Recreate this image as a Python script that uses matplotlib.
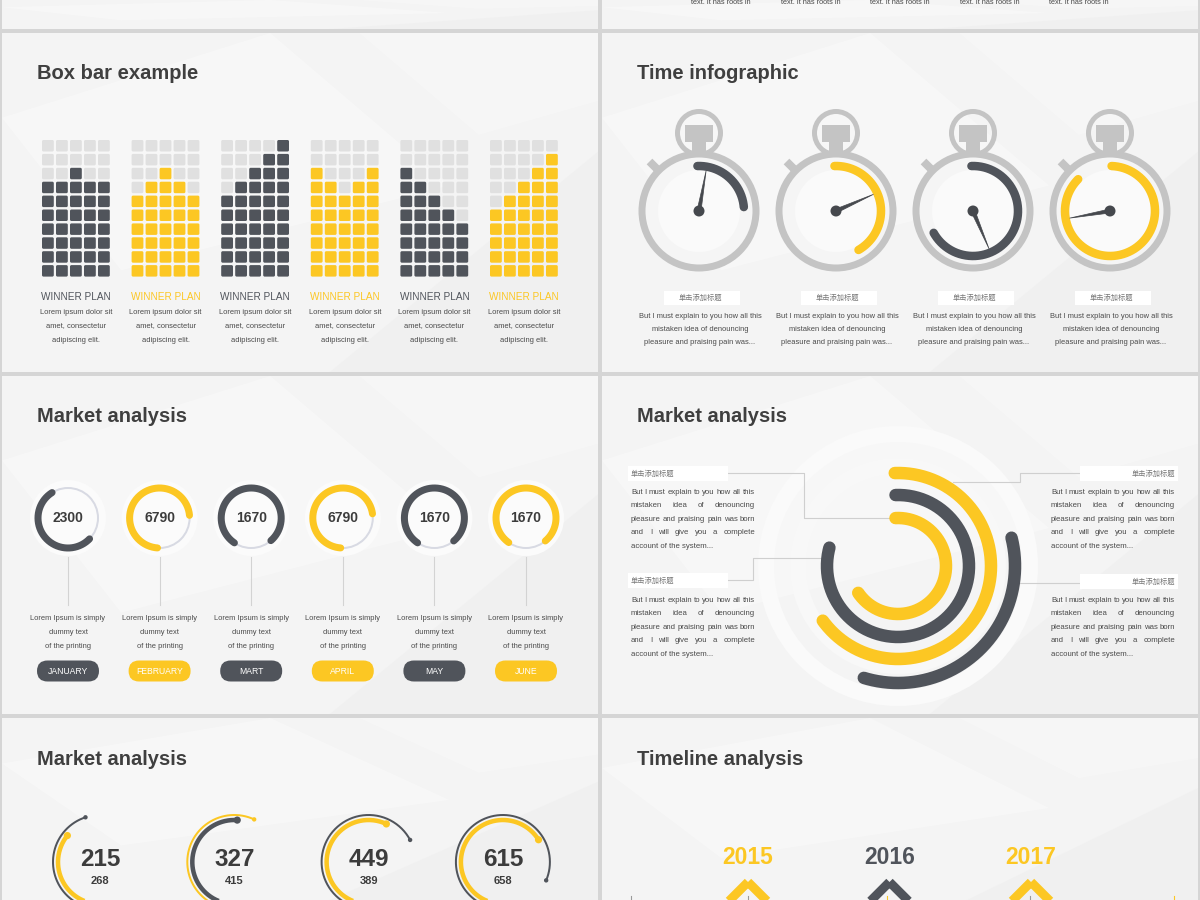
import numpy as np
import matplotlib
matplotlib.use("Agg")
import matplotlib.pyplot as plt
from matplotlib.patches import Rectangle, Circle, FancyBboxPatch, Polygon

plt.rcParams['font.family'] = ['Liberation Sans', 'Noto Sans CJK SC', 'DejaVu Sans']

DARK = "#50545b"
YEL = "#fcc723"
LGREY = "#e0e0e0"
TITLE = "#3f3f3f"
BODY = "#4a4a4a"
WGREY = "#c4c4c4"

# ---------------- data ----------------
top_snippets = ["text. It has roots in"] * 5

box_heights = [[7, 7, 8, 7, 7], [6, 7, 8, 7, 6], [6, 7, 8, 9, 10],
               [8, 7, 6, 7, 8], [8, 7, 6, 5, 4], [5, 6, 7, 8, 9]]
box_colors = [DARK, YEL, DARK, YEL, DARK, YEL]
box_label = "WINNER PLAN"
box_body = ["Lorem ipsum dolor sit", "amet, consectetur", "adipiscing elit."]

watch_start = [92, 92, 92, 88]        # degrees, arc start (top)
watch_sweep = [87, 152, 243, 313]     # degrees swept clockwise
watch_hand = [80, 24, -67, 190]       # hand direction, degrees
watch_colors = [DARK, YEL, DARK, YEL]
cn_title = "单击添加标题"
watch_body = ["But I must explain to you how all this",
              "mistaken idea of denouncing",
              "pleasure and praising pain was..."]

months = ["JANUARY", "FEBRUARY", "MART", "APRIL", "MAY", "JUNE"]
month_values = ["2300", "6790", "1670", "6790", "1670", "1670"]
month_arcs = [(122, 316), (5, 266), (-49, 236), (8, 266), (-50, 236), (-50, 235)]
month_colors = [DARK, YEL, DARK, YEL, DARK, YEL]
month_body = ["Lorem Ipsum is simply", "dummy text", "of the printing"]

ring_radii = [48, 71, 93, 117]
ring_start = [93, 92, 92, 14]
ring_sweep = [239, 287, 236, 121]
ring_colors = [YEL, DARK, YEL, DARK]
ring_body = ["But I must explain to you how all this",
             "mistaken idea of denouncing",
             "pleasure and praising pain was born",
             "and I will give you a complete",
             "account of the system..."]

gauge_values = ["215", "327", "449", "615"]
gauge_subs = ["268", "415", "389", "658"]
gauge_thin_end = [108, 65, 28, -23]
gauge_thick_end = [141, 86, 65, 32]
gauge_thin_colors = [DARK, YEL, DARK, DARK]
gauge_thick_colors = [YEL, DARK, YEL, YEL]

years = ["2015", "2016", "2017"]
year_colors = [YEL, DARK, YEL]

# ---------------- figure ----------------
fig = plt.figure(figsize=(12, 9), dpi=100)
fig.patch.set_facecolor("#d5d5d5")
ax = fig.add_axes([0, 0, 1, 1])
ax.set_xlim(0, 1200)
ax.set_ylim(900, 0)
ax.axis("off")
R = fig.canvas.get_renderer()


def px(v):
    return v * 0.72


def arc(cx, cy, r, a1, a2, color, lw, z=4, cap="round", alpha=1.0):
    t = np.radians(np.linspace(a1, a2, 240))
    ax.plot(cx + r * np.cos(t), cy - r * np.sin(t), color=color, lw=px(lw),
            solid_capstyle=cap, zorder=z, alpha=alpha)


def txt(x, y, s, fs, color=BODY, ha="center", va="center", weight="normal", z=6, **kw):
    return ax.text(x, y, s, fontsize=fs, color=color, ha=ha, va=va,
                   fontweight=weight, zorder=z, **kw)


def justify(x0, x1, y, line, fs, color=BODY, last=False):
    words = line.split()
    if last or len(words) == 1:
        txt(x0, y, line, fs, color, ha="left")
        return
    ts = [txt(0, y, w, fs, color, ha="left") for w in words]
    ws = [t.get_window_extent(renderer=R).width for t in ts]
    gap = (x1 - x0 - sum(ws)) / (len(words) - 1)
    x = x0
    for t, w in zip(ts, ws):
        t.set_x(x)
        x += w + gap


# panels
panels = [(2, 0, 596, 29), (602, 0, 596, 29),
          (2, 33, 596, 339), (602, 33, 596, 339),
          (2, 376, 596, 338), (602, 376, 596, 338),
          (2, 718, 596, 182), (602, 718, 596, 200)]
for (x, y, w, h) in panels:
    ax.add_patch(Rectangle((x, y), w, h, facecolor="#f4f4f4", edgecolor="none", zorder=0))
    polys = [[(x, y + h * 0.25), (x + w * 0.45, y), (x + w * 0.75, y + h * 0.45), (x + w * 0.2, y + h * 0.7)],
             [(x + w * 0.55, y + h), (x + w, y + h * 0.35), (x + w, y + h)],
             [(x + w * 0.6, y), (x + w, y), (x + w, y + h * 0.2), (x + w * 0.8, y + h * 0.3)]]
    cols = ["#f9f9f9", "#efefef", "#f8f8f8"]
    for p, c in zip(polys, cols):
        ax.add_patch(Polygon(p, closed=True, facecolor=c, edgecolor="none", alpha=0.7, zorder=0.5))

# top-right snippets
for i, s in enumerate(top_snippets):
    txt(721 + i * 89.5, 3, s, 5.3, BODY)

# titles
TFS = 14.5
txt(37, 79, "Box bar example", TFS, TITLE, ha="left", va="baseline", weight="bold")
txt(637, 79, "Time infographic", TFS, TITLE, ha="left", va="baseline", weight="bold")
txt(37, 422, "Market analysis", TFS, TITLE, ha="left", va="baseline", weight="bold")
txt(637, 422, "Market analysis", TFS, TITLE, ha="left", va="baseline", weight="bold")
txt(37, 765, "Market analysis", TFS, TITLE, ha="left", va="baseline", weight="bold")
txt(637, 765, "Timeline analysis", TFS, TITLE, ha="left", va="baseline", weight="bold")

# ---------------- box bar example ----------------
SQ, PX_, PY_ = 11.8, 14.0, 13.9
for i, (hts, col) in enumerate(zip(box_heights, box_colors)):
    x0 = 42 + i * 89.6
    for c, hgt in enumerate(hts):
        for r in range(10):
            filled = (9 - r) < hgt
            ax.add_patch(FancyBboxPatch((x0 + c * PX_, 140 + r * PY_), SQ, 11.5,
                                        boxstyle="round,pad=0,rounding_size=1.5",
                                        facecolor=col if filled else LGREY,
                                        edgecolor="none", zorder=3))
    cx = x0 + 34
    txt(cx, 297, box_label, 7.2, col, weight="medium")
    for k, line in enumerate(box_body):
        txt(cx, 312 + k * 14, line, 5.4, BODY)

# ---------------- stopwatches ----------------
for i in range(4):
    cx, cy = 699 + i * 137, 211
    col = watch_colors[i]
    ax.add_patch(Circle((cx, 133), 21.5, facecolor="none", edgecolor=WGREY, lw=px(5), zorder=2))
    ax.add_patch(Rectangle((cx - 14, 125), 28, 17, facecolor=WGREY, edgecolor="none", zorder=3))
    ax.add_patch(Rectangle((cx - 7, 140), 14, 16, facecolor=WGREY, edgecolor="none", zorder=3))
    bx, by = cx + 64 * np.cos(np.radians(135)), cy - 64 * np.sin(np.radians(135))
    ax.add_patch(Rectangle((bx - 6, by - 4), 12, 8, angle=45, rotation_point="center",
                           facecolor=WGREY, edgecolor="none", zorder=2))
    ax.add_patch(Circle((cx, cy), 57, facecolor="#f5f5f5", edgecolor=WGREY, lw=px(7), zorder=3))
    ax.add_patch(Circle((cx, cy), 41, facecolor="#fafafa", edgecolor="none", zorder=3.1))
    arc(cx, cy, 45, watch_start[i], watch_start[i] - watch_sweep[i], col, 8.5, z=4)
    a = np.radians(watch_hand[i])
    perp = a + np.pi / 2
    hx, hy = cx + 41 * np.cos(a), cy - 41 * np.sin(a)
    ax.add_patch(Polygon([(cx + 2 * np.cos(perp), cy - 2 * np.sin(perp)), (hx, hy),
                          (cx - 2 * np.cos(perp), cy + 2 * np.sin(perp))],
                         closed=True, facecolor="#45484d", edgecolor="#45484d", lw=0.5, zorder=5))
    ax.add_patch(Circle((cx, cy), 5.5, facecolor="#45484d", edgecolor="none", zorder=5))
    ax.add_patch(Rectangle((cx - 35, 291), 76, 14, facecolor="white", edgecolor="none", zorder=4))
    txt(cx + 1, 298, cn_title, 5.2, "#777777")
    for k, line in enumerate(watch_body):
        txt(cx + 1, 316 + k * 13.5, line, 5.4, BODY)

# ---------------- monthly circles ----------------
for i in range(6):
    cx, cy = 68 + i * 91.6, 518
    col = month_colors[i]
    ax.add_patch(Circle((cx, cy), 38, facecolor="#fbfbfb", edgecolor="none", zorder=2))
    ax.add_patch(Circle((cx, cy), 30, facecolor="none", edgecolor="#d8dae3", lw=px(2), zorder=3))
    a1, a2 = month_arcs[i]
    arc(cx, cy, 30, a1, a2, col, 7, z=4)
    txt(cx, cy, month_values[i], 10, "#3c3c3c", weight="bold")
    ax.plot([cx, cx], [557, 605], color="#d3d3d3", lw=0.8, zorder=2)
    for k, line in enumerate(month_body):
        txt(cx, 619 + k * 13.7, line, 5.4, BODY)
    ax.add_patch(FancyBboxPatch((cx - 31, 660.5), 62, 21, boxstyle="round,pad=0,rounding_size=10.5",
                                facecolor=col, edgecolor="none", zorder=4))
    txt(cx, 671, months[i], 6.2, "white")

# ---------------- concentric rings ----------------
RCX, RCY = 898, 566
for rr, c in [(132, "#fafafa"), (100, "#f8f8f8")]:
    ax.add_patch(Circle((RCX, RCY), rr, facecolor="none", edgecolor=c, lw=px(16), zorder=1))
for rr, st, sw, c in zip(ring_radii, ring_start, ring_sweep, ring_colors):
    arc(RCX, RCY, rr, st, st - sw, c, 12.5, z=4)

LC = "#cfcfcf"
ax.plot([713, 804, 804, 893], [473, 473, 518, 518], color=LC, lw=0.8, zorder=2)
ax.plot([713, 753, 753, 823], [580, 580, 558, 558], color=LC, lw=0.8, zorder=2)
ax.plot([1093, 1020, 1020, 953], [473, 473, 482, 482], color=LC, lw=0.8, zorder=2)
ax.plot([1093, 1013], [583, 583], color=LC, lw=0.8, zorder=2)

for (bx0, by) in [(628, 474), (628, 581)]:
    ax.add_patch(Rectangle((bx0, by - 8), 100, 15, facecolor="white", edgecolor="none", zorder=3))
    txt(631, by, cn_title, 5.2, "#777777", ha="left")
for (bx0, by) in [(1080, 474), (1080, 582)]:
    ax.add_patch(Rectangle((bx0, by - 8), 98, 15, facecolor="white", edgecolor="none", zorder=3))
    txt(1175, by, cn_title, 5.2, "#777777", ha="right")

for (x0, x1, y0) in [(631, 755, 492), (631, 755, 600), (1051, 1175, 492), (1051, 1175, 600)]:
    for k, line in enumerate(ring_body):
        justify(x0, x1, y0 + k * 13.6, line, 5.55, BODY, last=(k == len(ring_body) - 1))

# ---------------- gauges ----------------
for i in range(4):
    cx, cy = 100 + i * 134.3, 862
    e1, e2 = gauge_thin_end[i], gauge_thick_end[i]
    arc(cx, cy, 47, e1, 285, gauge_thin_colors[i], 2, z=3, cap="butt")
    arc(cx, cy, 42, e2, 285, gauge_thick_colors[i], 4.5, z=4, cap="butt")
    for rr, ee, cc, dr in [(47, e1, gauge_thin_colors[i], 2.2), (42, e2, gauge_thick_colors[i], 3.6)]:
        a = np.radians(ee)
        ax.add_patch(Circle((cx + rr * np.cos(a), cy - rr * np.sin(a)), dr, facecolor=cc,
                            edgecolor="none", zorder=5))
    txt(cx, 860, gauge_values[i], 17.5, "#3c3c3c", weight="bold")
    txt(cx, 881, gauge_subs[i], 8, "#3c3c3c", weight="bold")

# ---------------- timeline ----------------
for i, (yr, c) in enumerate(zip(years, year_colors)):
    cx = 748 + i * 141.5
    txt(cx, 857, yr, 16.5, c, weight="bold")
    d = 34
    ax.add_patch(Polygon([(cx, 882), (cx + d, 882 + d), (cx, 882 + 2 * d), (cx - d, 882 + d)],
                         closed=True, facecolor="none", edgecolor=c, lw=px(9), joinstyle="miter", zorder=4))
for x, c in zip([631, 748, 887, 1030, 1174], ["#9a9a9a", "#9a9a9a", YEL, "#9a9a9a", YEL]):
    ax.plot([x, x], [896, 901], color=c, lw=0.8, zorder=5)

fig.savefig("out.png", dpi=100, facecolor=fig.get_facecolor())
